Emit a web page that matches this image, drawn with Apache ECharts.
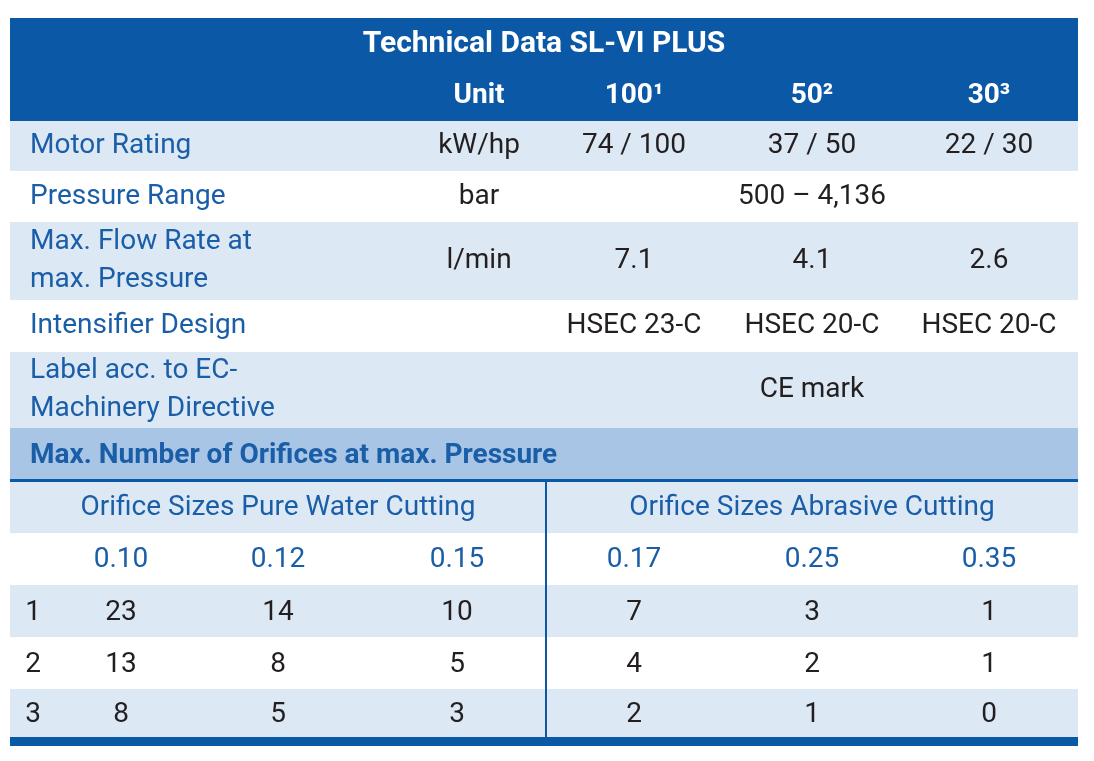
<!DOCTYPE html>
<html><head><meta charset="utf-8">
<script src="https://cdn.jsdelivr.net/npm/echarts@6/dist/echarts.min.js"></script>
<style>html,body{margin:0;background:#fff}#c{width:1094px;height:761px}</style>
</head><body><div id="c"></div>
<script>
// Table content
const title = 'Technical Data SL-VI PLUS';
const headCols = ['Unit', '100¹', '50²', '30³'];
const specLabels = [['Motor Rating'], ['Pressure Range'], ['Max. Flow Rate at', 'max. Pressure'], ['Intensifier Design'], ['Label acc. to EC-', 'Machinery Directive']];
const specUnits = ['kW/hp', 'bar', 'l/min', '', ''];
const specValues = [['74 / 100', '37 / 50', '22 / 30'], ['500 – 4,136'], ['7.1', '4.1', '2.6'], ['HSEC 23-C', 'HSEC 20-C', 'HSEC 20-C'], ['CE mark']];
const orificeTitle = 'Max. Number of Orifices at max. Pressure';
const groupLabels = ['Orifice Sizes Pure Water Cutting', 'Orifice Sizes Abrasive Cutting'];
const orificeSizes = ['0.10', '0.12', '0.15', '0.17', '0.25', '0.35'];
const rowIds = ['1', '2', '3'];
const orificeCounts = [[23, 14, 10, 7, 3, 1], [13, 8, 5, 4, 2, 1], [8, 5, 3, 2, 1, 0]];

const DARK = '#0b58a6', LIGHT = '#dde8f5', MID = '#a8c5e6', BLUE_TXT = '#1b5ea8', TXT = '#231f20';
const FONT = 'Roboto, "DejaVu Sans", sans-serif';
const L = 10, R = 1078, W = R - L;
const headX = [479, 634, 812, 989];
const lowX = [121, 278, 457, 634, 812, 989];
const g = [];
const rect = (y, h, fill) => g.push({ type: 'rect', shape: { x: L, y, width: W, height: h }, style: { fill } });
const text = (x, y, s, opt = {}) => g.push({ type: 'text', x, y, style: Object.assign({ text: s, font: `${opt.w || 400} ${opt.size || 28}px ${FONT}`, fill: opt.fill || TXT, align: opt.align || 'center', verticalAlign: 'middle' }, opt.extra || {}) });

// header
rect(18, 103, DARK);
text(544, 44, title, { w: 700, size: 30, fill: '#fff' });
headCols.forEach((h, i) => text(headX[i], 96, h, { w: 700, fill: '#fff' }));

// spec rows
const specY = [121, 171, 222, 300, 352, 428];
specLabels.forEach((lab, i) => {
  const y0 = specY[i], y1 = specY[i + 1], cy = (y0 + y1) / 2;
  rect(y0, y1 - y0, i % 2 === 0 ? LIGHT : '#fff');
  if (lab.length === 1) text(30, cy, lab[0], { align: 'left', fill: BLUE_TXT });
  else { text(30, cy - 19, lab[0], { align: 'left', fill: BLUE_TXT }); text(30, cy + 19, lab[1], { align: 'left', fill: BLUE_TXT }); }
  if (specUnits[i]) text(headX[0], cy, specUnits[i]);
  const vals = specValues[i];
  if (vals.length === 1) text(headX[2], cy, vals[0]);
  else vals.forEach((v, j) => text(headX[j + 1], cy, v));
});

// orifice section
rect(428, 52, MID);
text(30, 456, orificeTitle, { align: 'left', w: 700, fill: BLUE_TXT });
rect(479, 3, DARK);
rect(482, 51, LIGHT);
text(278, 508, groupLabels[0], { fill: BLUE_TXT });
text(812, 508, groupLabels[1], { fill: BLUE_TXT });
rect(533, 52, '#fff');
orificeSizes.forEach((s, i) => text(lowX[i], 560, s, { fill: BLUE_TXT }));
const rowY = [585, 637, 689, 737];
rowIds.forEach((id, r) => {
  const y0 = rowY[r], y1 = rowY[r + 1], cy = (y0 + y1) / 2 + 2;
  rect(y0, y1 - y0, r % 2 === 0 ? LIGHT : '#fff');
  text(33, cy, id);
  orificeCounts[r].forEach((v, i) => text(lowX[i], cy, String(v)));
});
rect(737, 9, DARK);
g.push({ type: 'rect', shape: { x: 545, y: 482, width: 2, height: 255 }, style: { fill: DARK } });

const chart = echarts.init(document.getElementById('c'));
chart.setOption({ animation: false, graphic: { elements: g } });
</script></body></html>
